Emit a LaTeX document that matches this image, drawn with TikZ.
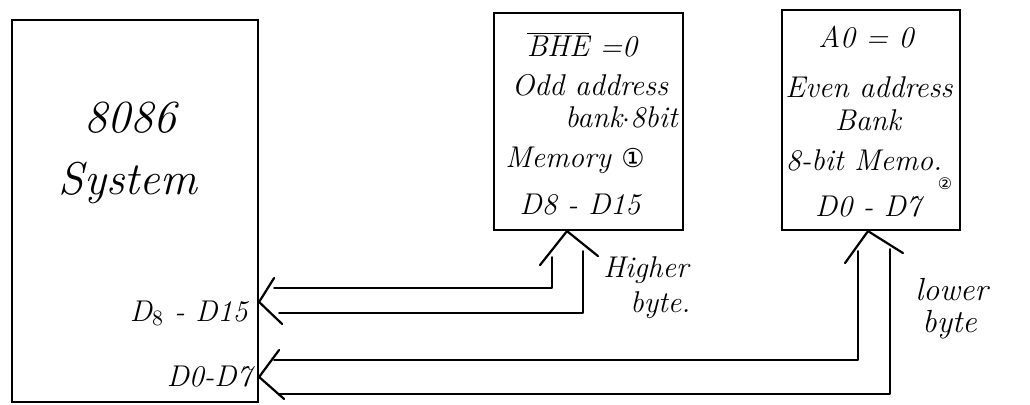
\documentclass[tikz,border=0pt]{standalone}
\usepackage{fontspec}
\newfontfamily\symfont{DejaVu Sans}
\begin{document}
\begin{tikzpicture}[x=0.5pt,y=-0.5pt,
  blockbox/.style={draw,line width=1.1pt,inner sep=0pt},
  bus/.style={line width=1.1pt,line join=round,line cap=round},
  hand/.style={font=\fontsize{15}{17}\selectfont\itshape,inner sep=0pt},
  big/.style={font=\fontsize{23}{27}\selectfont\itshape,inner sep=0pt}]
\useasboundingbox (0,0) rectangle (1030,405);

% blocks
\node[blockbox,minimum width=123pt,minimum height=191pt] (cpu) at (135,211) {};
\node[blockbox,minimum width=94.5pt,minimum height=108.5pt] (odd) at (588.5,121.5) {};
\node[blockbox,minimum width=89pt,minimum height=110pt] (even) at (871,120) {};

% CPU labels
\node[big] (t8086) at (130,118) {8086};
\node[big] (tsys) at (128,183) {System};
\node[hand,anchor=east] (cpuHi) at (248,313) {D$_8$ - D15};
\node[hand,anchor=east] (cpuLo) at (252,377) {D0-D7};

% odd bank labels
\node[hand] (oddA) at (582,45) {$\overline{\mbox{\itshape BHE}}$ =0};
\node[hand] (oddB) at (590,85) {Odd address};
\node[hand,anchor=east] (oddC) at (678,117) {bank$\cdot$8bit};
\node[hand] (oddD) at (575,160) {Memory {\symfont\fontsize{13}{15}\selectfont ①}};
\node[hand] (oddE) at (580,205) {D8 - D15};

% even bank labels
\node[hand] (evA) at (866,37) {A0 = 0};
\node[hand] (evB) at (869,87) {Even address};
\node[hand] (evC) at (868,120) {Bank};
\node[hand] (evD) at (864,160) {8-bit Memo.};
\node[font=\symfont\fontsize{8}{9}\selectfont,inner sep=0pt] (evN) at (945,184) {②};
\node[hand] (evE) at (868,207) {D0 - D7};

% byte labels
\node[hand,anchor=west] (hiA) at (603,270) {Higher};
\node[hand,anchor=west] (hiB) at (630,305) {byte.};
\node[hand,anchor=west,font=\fontsize{16}{18}\selectfont\itshape] (loA) at (915,290) {lower};
\node[hand,anchor=west,font=\fontsize{16}{18}\selectfont\itshape] (loB) at (922,325) {byte};

% tips of the data buses
\coordinate (hiCpu) at (cpu.east |- 0,302);
\coordinate (loCpu) at (cpu.east |- 0,377);
\coordinate (hiMem) at (odd.south -| 567,0);
\coordinate (loMem) at (even.south -| 868,0);

% higher byte bus D8-D15
\draw[bus] ([xshift=7.5pt,yshift=7pt]hiCpu) -| ([xshift=-7.5pt,yshift=-13pt]hiMem);
\draw[bus] ([xshift=10pt,yshift=-5.5pt]hiCpu) -| ([xshift=8pt,yshift=-10pt]hiMem);
\draw[bus] ([xshift=7.5pt,yshift=12pt]hiCpu) -- (hiCpu) -- ([xshift=11.5pt,yshift=-11pt]hiCpu);
\draw[bus] ([xshift=-13.5pt,yshift=-17pt]hiMem) -- (hiMem) -- ([xshift=15.5pt,yshift=-12.5pt]hiMem);

% lower byte bus D0-D7
\draw[bus] ([xshift=7.5pt,yshift=8.5pt]loCpu) -| ([xshift=-5pt,yshift=-10pt]loMem);
\draw[bus] ([xshift=10pt,yshift=-8.5pt]loCpu) -| ([xshift=11pt,yshift=-9pt]loMem);
\draw[bus] ([xshift=10pt,yshift=13.5pt]loCpu) -- (loCpu) -- ([xshift=12.5pt,yshift=-11pt]loCpu);
\draw[bus] ([xshift=-11.5pt,yshift=-16pt]loMem) -- (loMem) -- ([xshift=17.5pt,yshift=-11pt]loMem);
\end{tikzpicture}
\end{document}
